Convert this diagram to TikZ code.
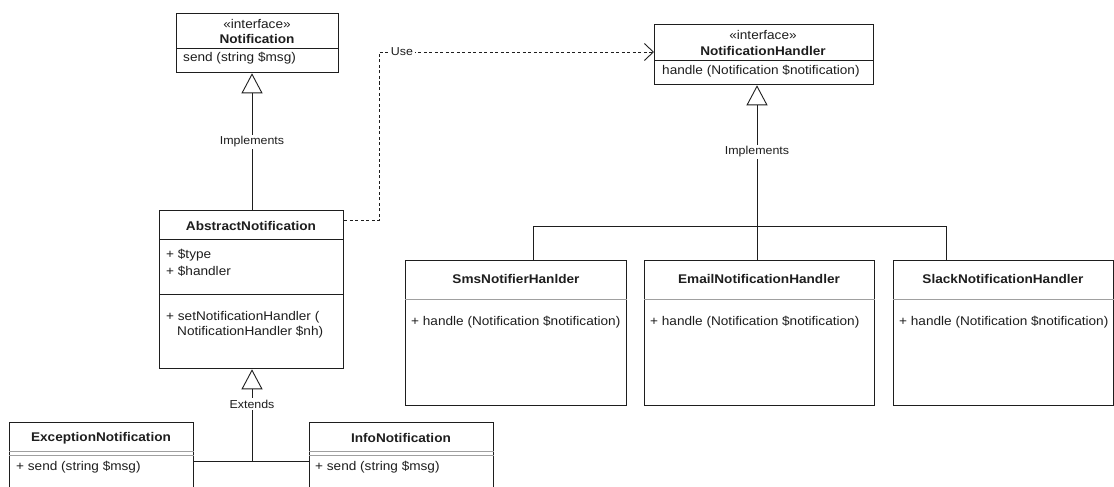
\documentclass[tikz,border=0pt]{standalone}
\usepackage{fontspec}
\setmainfont{Liberation Sans}[FakeStretch=1.08]
\usetikzlibrary{arrows.meta,calc}
\definecolor{ink}{HTML}{1E1E1E}
\definecolor{rulegray}{HTML}{A0A0A0}
\begin{document}
\begin{tikzpicture}[x=1pt,y=-1pt,
  box/.style={draw=ink, line width=1.3pt, rectangle, anchor=north west, inner sep=0pt},
  conn/.style={draw=ink, line width=0.9pt},
  divider/.style={draw=ink, line width=0.9pt},
  softdiv/.style={draw=rulegray, line width=0.8pt},
  tri/.style={-{Triangle[open,length=20pt,width=21pt]}},
  txt/.style={text=ink, font=\fontsize{12.6}{15}\selectfont, inner sep=0pt},
  ttl/.style={text=ink, font=\fontsize{12.6}{15}\selectfont\bfseries, inner sep=0pt},
  mth/.style={txt, anchor=west},
  lbl/.style={text=ink, font=\fontsize{11.5}{13}\selectfont, fill=white, inner sep=1.5pt},
]
\useasboundingbox (0,0) rectangle (1114,487);
\clip (0,0) rectangle (1114,487);
\fill[white] (0,0) rectangle (1114,487);

% ---------- boxes ----------
\node[box, minimum width=162pt, minimum height=59pt] (nt) at (176,13) {};
\node[box, minimum width=184pt, minimum height=158pt] (an) at (159,210) {};
\node[box, minimum width=219pt, minimum height=60pt] (nh) at (654,24) {};
\node[box, minimum width=221pt, minimum height=145pt] (sms) at (405,260) {};
\node[box, minimum width=230pt, minimum height=145pt] (email) at (644,260) {};
\node[box, minimum width=220pt, minimum height=145pt] (slack) at (893,260) {};
\node[box, minimum width=184pt, minimum height=110pt] (exc) at (9,422) {};
\node[box, minimum width=184pt, minimum height=110pt] (info) at (309,422) {};

% ---------- dividers ----------
\draw[divider] ([yshift=-35pt]nt.north west) -- ([yshift=-35pt]nt.north east);
\draw[divider] ([yshift=-29pt]an.north west) -- ([yshift=-29pt]an.north east);
\draw[divider] ([yshift=-84pt]an.north west) -- ([yshift=-84pt]an.north east);
\draw[divider] ([yshift=-36pt]nh.north west) -- ([yshift=-36pt]nh.north east);
\foreach \b in {sms,email,slack}
  \draw[softdiv] ([yshift=-39pt]\b.north west) -- ([yshift=-39pt]\b.north east);
\foreach \b in {exc,info}{
  \draw[softdiv] ([yshift=-29pt]\b.north west) -- ([yshift=-29pt]\b.north east);
  \draw[softdiv] ([yshift=-33pt]\b.north west) -- ([yshift=-33pt]\b.north east);
}

% ---------- texts ----------
\node[txt] (nt-st) at (257,24) {«interface»};
\node[ttl] (nt-t) at (257,39) {Notification};
\node[mth] (nt-m) at (183,58) {send (string \$msg)};

\node[ttl] (an-t) at (251,226) {AbstractNotification};
\node[mth] (an-a1) at (166,255) {+ \$type};
\node[mth] (an-a2) at (166,271) {+ \$handler};
\node[mth] (an-m1) at (166,317) {+ setNotificationHandler (};
\node[mth] (an-m2) at (177,332) {NotificationHandler \$nh)};

\node[txt] (nh-st) at (763,35) {«interface»};
\node[ttl] (nh-t) at (763,51) {NotificationHandler};
\node[mth] (nh-m) at (662,71) {handle (Notification \$notification)};

\node[ttl] (sms-t) at (516,279) {SmsNotifierHanlder};
\node[mth] (sms-m) at (411,322) {+ handle (Notification \$notification)};
\node[ttl] (email-t) at (759,279) {EmailNotificationHandler};
\node[mth] (email-m) at (650,322) {+ handle (Notification \$notification)};
\node[ttl] (slack-t) at (1003,279) {SlackNotificationHandler};
\node[mth] (slack-m) at (899,322) {+ handle (Notification \$notification)};

\node[ttl] (exc-t) at (101,438) {ExceptionNotification};
\node[mth] (exc-m) at (16,467) {+ send (string \$msg)};
\node[ttl] (info-t) at (401,438) {InfoNotification};
\node[mth] (info-m) at (315,467) {+ send (string \$msg)};

% ---------- connectors ----------
\coordinate (lv) at (252,0);
% AbstractNotification implements Notification
\draw[conn, tri] (an.north -| lv) -- (nt.south -| lv);
\node[lbl] (impl1) at (252,142) {Implements};

% Use (dashed dependency)
\draw[conn, dash pattern=on 3pt off 2.5pt, -{Straight Barb[length=9pt,width=17pt]}]
  ([yshift=-10pt]an.north east) -- ++(35,0) |- ([yshift=-28pt]nh.north west);
\node[lbl] (use) at (402,52) {Use};

% handlers implement NotificationHandler
\coordinate (hv) at (757,0);
\draw[conn, tri] (email.north -| hv) -- (nh.south -| hv);
\draw[conn] ([xshift=128pt]sms.north west) -- ++(0,-34) -| ([xshift=53pt]slack.north west);
\node[lbl] (impl2) at (757,152) {Implements};

% Extends
\coordinate (extj) at (252,461);
\draw[conn] ([yshift=-39pt]exc.north east) -- ([yshift=-39pt]info.north west);
\draw[conn, tri] (extj) -- (an.south -| extj);
\node[lbl] (ext) at (252,404) {Extends};
\end{tikzpicture}
\end{document}
